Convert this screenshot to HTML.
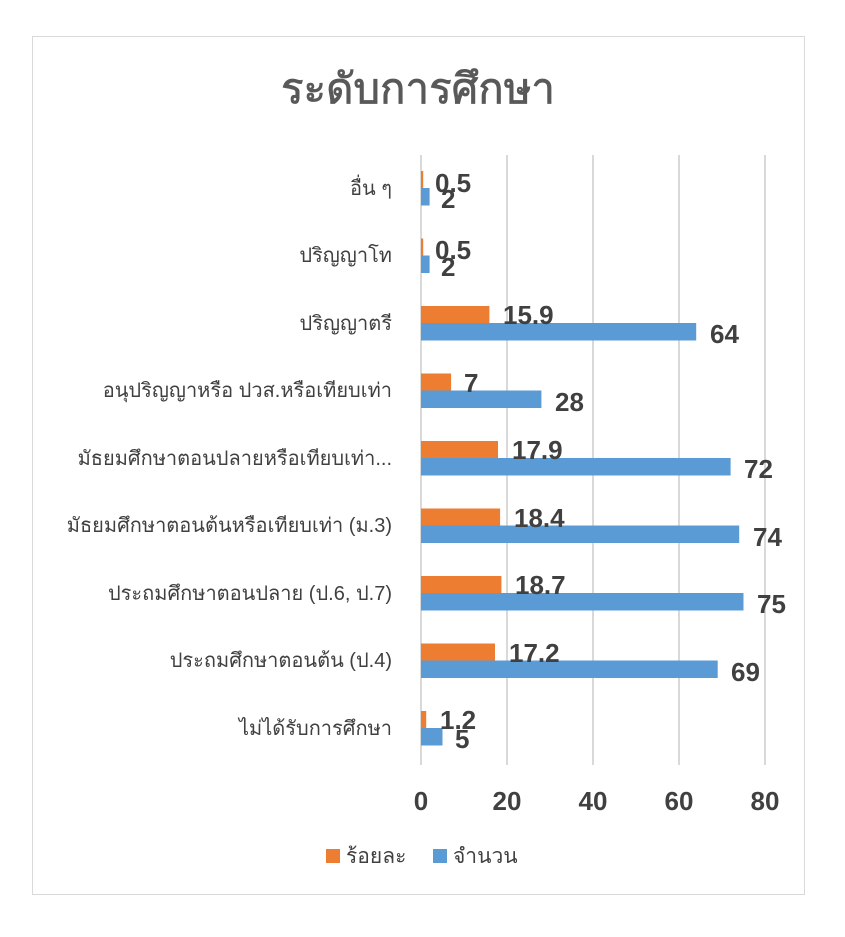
<!DOCTYPE html>
<html><head><meta charset="utf-8"><style>
body{margin:0;background:#fff;}
svg text{font-family:"Liberation Sans","DejaVu Sans",sans-serif;}
</style></head><body>
<svg width="845" height="932" xmlns="http://www.w3.org/2000/svg">
<rect x="0" y="0" width="845" height="932" fill="#fff"/>
<rect x="32.5" y="36.5" width="772" height="858" fill="#fff" stroke="#d9d9d9"/>
<text x="418" y="103" font-size="42" fill="#595959" stroke="#595959" stroke-width="0.8" text-anchor="middle">ระดับการศึกษา</text>
<g stroke="#d9d9d9" stroke-width="2">
<line x1="421" y1="155" x2="421" y2="765"/>
<line x1="507" y1="155" x2="507" y2="765"/>
<line x1="593" y1="155" x2="593" y2="765"/>
<line x1="679" y1="155" x2="679" y2="765"/>
<line x1="765" y1="155" x2="765" y2="765"/>
</g>
<g font-size="26" font-weight="bold" fill="#404040" text-anchor="middle">
<text x="421" y="810">0</text><text x="507" y="810">20</text><text x="593" y="810">40</text><text x="679" y="810">60</text><text x="765" y="810">80</text>
</g>
<g font-size="20" fill="#404040" text-anchor="end">
<text x="392" y="195">อื่น ๆ</text>
<text x="392" y="262">ปริญญาโท</text>
<text x="392" y="330">ปริญญาตรี</text>
<text x="392" y="397">อนุปริญญาหรือ ปวส.หรือเทียบเท่า</text>
<text x="392" y="465">มัธยมศึกษาตอนปลายหรือเทียบเท่า...</text>
<text x="392" y="532">มัธยมศึกษาตอนต้นหรือเทียบเท่า (ม.3)</text>
<text x="392" y="600">ประถมศึกษาตอนปลาย (ป.6, ป.7)</text>
<text x="392" y="667">ประถมศึกษาตอนต้น (ป.4)</text>
<text x="392" y="735">ไม่ได้รับการศึกษา</text>
</g>
<g font-size="26" font-weight="bold" fill="#404040">
<rect x="421" y="171" width="2.2" height="17" fill="#ed7d31"/><rect x="421" y="188" width="8.6" height="17.5" fill="#5b9bd5"/>
<text x="435" y="192">0.5</text><text x="441" y="208">2</text>
<rect x="421" y="238.5" width="2.2" height="17" fill="#ed7d31"/><rect x="421" y="255.5" width="8.6" height="17.5" fill="#5b9bd5"/>
<text x="435" y="259">0.5</text><text x="441" y="276">2</text>
<rect x="421" y="306" width="68.4" height="17" fill="#ed7d31"/><rect x="421" y="323" width="275.2" height="17.5" fill="#5b9bd5"/>
<text x="503" y="324">15.9</text><text x="710" y="343">64</text>
<rect x="421" y="373.5" width="30.1" height="17" fill="#ed7d31"/><rect x="421" y="390.5" width="120.4" height="17.5" fill="#5b9bd5"/>
<text x="464" y="392">7</text><text x="555" y="411">28</text>
<rect x="421" y="441" width="77" height="17" fill="#ed7d31"/><rect x="421" y="458" width="309.6" height="17.5" fill="#5b9bd5"/>
<text x="512" y="459">17.9</text><text x="744" y="478">72</text>
<rect x="421" y="508.5" width="79.1" height="17" fill="#ed7d31"/><rect x="421" y="525.5" width="318.2" height="17.5" fill="#5b9bd5"/>
<text x="514" y="527">18.4</text><text x="753" y="546">74</text>
<rect x="421" y="576" width="80.4" height="17" fill="#ed7d31"/><rect x="421" y="593" width="322.5" height="17.5" fill="#5b9bd5"/>
<text x="515" y="594">18.7</text><text x="757" y="613">75</text>
<rect x="421" y="643.5" width="74" height="17" fill="#ed7d31"/><rect x="421" y="660.5" width="296.7" height="17.5" fill="#5b9bd5"/>
<text x="509" y="662">17.2</text><text x="731" y="681">69</text>
<rect x="421" y="711" width="5.2" height="17" fill="#ed7d31"/><rect x="421" y="728" width="21.5" height="17.5" fill="#5b9bd5"/>
<text x="440" y="729">1.2</text><text x="455" y="748">5</text>
</g>
<rect x="326" y="849" width="14" height="14" fill="#ed7d31"/>
<text x="346" y="863" font-size="21" fill="#404040">ร้อยละ</text>
<rect x="433" y="849" width="14" height="14" fill="#5b9bd5"/>
<text x="453" y="863" font-size="21" fill="#404040">จำนวน</text>
</svg>
</body></html>
